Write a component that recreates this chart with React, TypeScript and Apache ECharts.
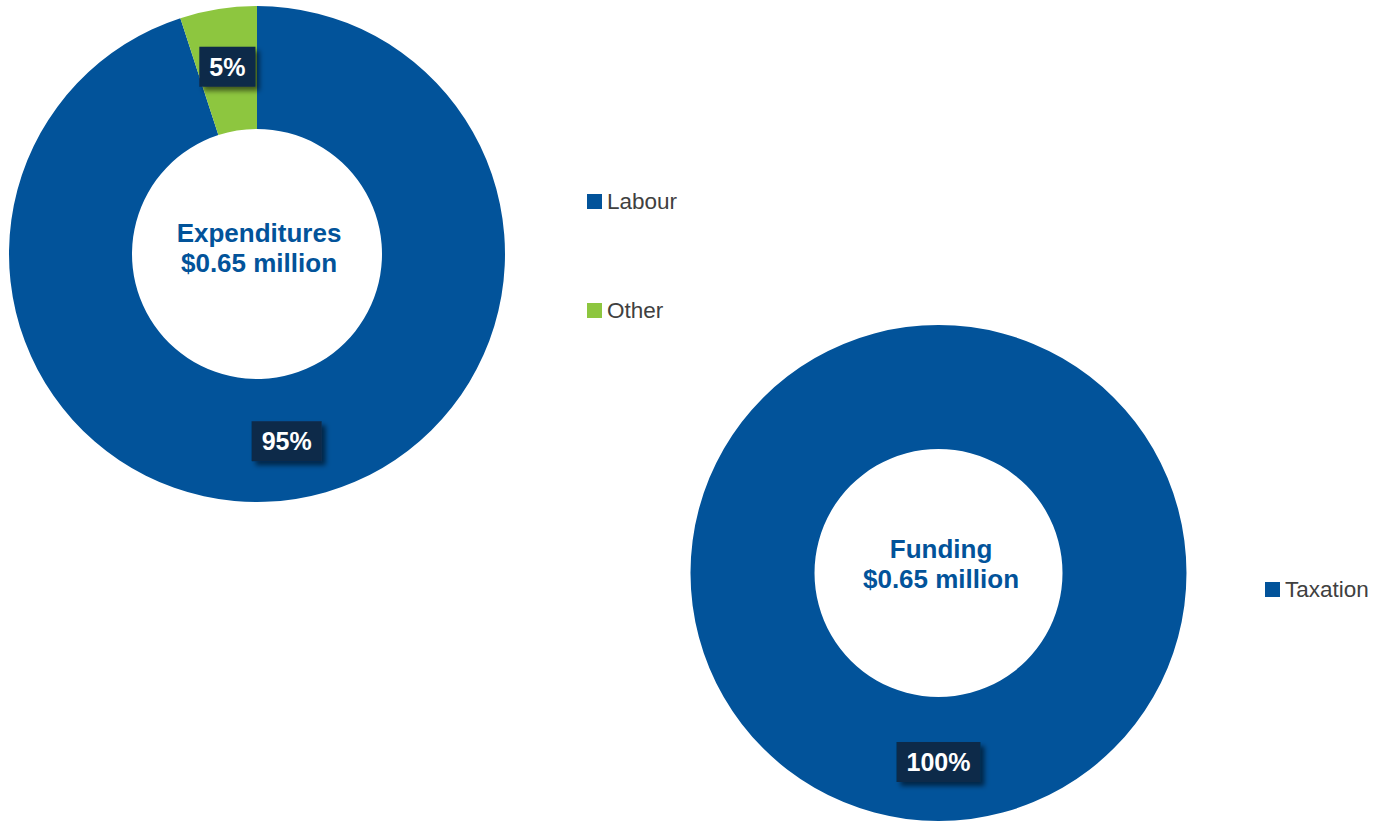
import React, { useEffect, useRef } from "react";
import * as echarts from "echarts";

const expenditureCategories = ["Labour", "Other"];
const expenditureShares = [95, 5];
const fundingCategories = ["Taxation"];
const fundingShares = [100];
const expenditureTitle = "Expenditures\n$0.65 million";
const fundingTitle = "Funding\n$0.65 million";

const BLUE = "#02539a";
const GREEN = "#8dc63f";
const NAVY = "#0d2949";

export default function App() {
  const ref = useRef<HTMLDivElement>(null);
  useEffect(() => {
    if (!ref.current) return;
    const chart = echarts.init(ref.current, null, { renderer: "svg" });
    const label = {
      show: true,
      position: "inside",
      formatter: "{c}%",
      color: "#ffffff",
      fontFamily: "Liberation Sans, Arial, sans-serif",
      fontWeight: "bold",
      fontSize: 25,
      backgroundColor: NAVY,
      padding: [8, 10, 7, 10],
      shadowColor: "rgba(0,0,0,0.55)",
      shadowBlur: 5,
      shadowOffsetX: 4,
      shadowOffsetY: 4,
    };
    const legendText = {
      fontFamily: "Liberation Sans, Arial, sans-serif",
      fontSize: 22.5,
      lineHeight: 27,
      color: "#404040",
    };
    const titleText = {
      fontFamily: "Liberation Sans, Arial, sans-serif",
      fontWeight: "bold",
      fontSize: 26,
      lineHeight: 30,
      color: BLUE,
    };
    chart.setOption({
      animation: false,
      color: [BLUE, GREEN],
      title: [
        { text: expenditureTitle, left: 259, top: 218, textAlign: "center", textStyle: titleText, padding: 0 },
        { text: fundingTitle, left: 941, top: 534, textAlign: "center", textStyle: titleText, padding: 0 },
      ],
      legend: [
        {
          data: expenditureCategories,
          orient: "vertical",
          left: 587,
          top: 188,
          itemWidth: 15,
          itemHeight: 15,
          itemGap: 82,
          icon: "rect",
          padding: 0,
          textStyle: legendText,
          selectedMode: false,
        },
        {
          data: fundingCategories,
          orient: "vertical",
          left: 1265,
          top: 576,
          itemWidth: 15,
          itemHeight: 15,
          icon: "rect",
          padding: 0,
          textStyle: legendText,
          selectedMode: false,
        },
      ],
      series: [
        {
          type: "pie",
          center: [257, 254],
          radius: [125, 248],
          startAngle: 90,
          clockwise: true,
          label,
          labelLine: { show: false },
          emphasis: { disabled: true },
          data: expenditureCategories.map((n, i) => ({
            name: n,
            value: expenditureShares[i],
            itemStyle: { color: i === 0 ? BLUE : GREEN },
          })),
        },
        {
          type: "pie",
          center: [938.5, 573],
          radius: [124, 248],
          startAngle: 90,
          clockwise: true,
          label,
          labelLine: { show: false },
          emphasis: { disabled: true },
          data: fundingCategories.map((n, i) => ({
            name: n,
            value: fundingShares[i],
            itemStyle: { color: BLUE },
          })),
        },
      ],
    });
    return () => chart.dispose();
  }, []);
  return (
    <div
      ref={ref}
      style={{ position: "absolute", left: 0, top: 0, width: 1385, height: 821, background: "#fff" }}
    />
  );
}
